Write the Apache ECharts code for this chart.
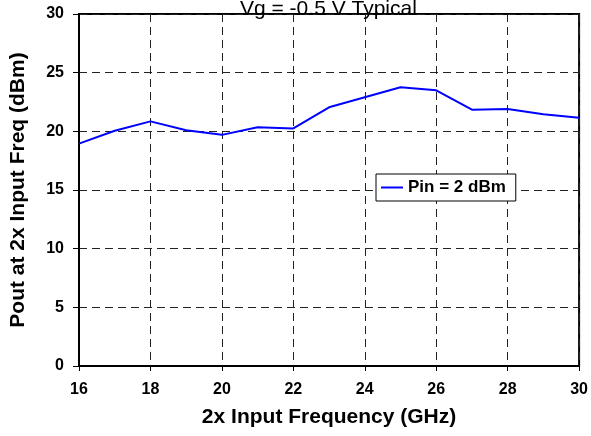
<!DOCTYPE html>
<html>
<head>
<meta charset="utf-8">
<script src="https://cdn.jsdelivr.net/npm/echarts@6/dist/echarts.min.js"></script>
<style>
  html, body { margin: 0; padding: 0; background: #fff; }
  #chart { width: 591px; height: 436px; }
</style>
</head>
<body>
<div id="chart"></div>
<script>
// Data
const freqs = [16, 17, 18, 19, 20, 21, 22, 23, 24, 25, 26, 27, 28, 29, 30];
const pout = [18.95, 20.05, 20.85, 20.1, 19.7, 20.35, 20.25, 22.05, 22.9, 23.75, 23.5, 21.85, 21.9, 21.45, 21.15];
const seriesName = 'Pin = 2 dBm';

const font = 'Liberation Sans, Arial, sans-serif';

const chart = echarts.init(document.getElementById('chart'));

const option = {
  animation: false,
  title: {
    text: 'Vg = -0.5 V Typical',
    left: 235,
    top: -6,
    textStyle: {
      fontFamily: font,
      fontSize: 21,
      fontWeight: 'normal',
      color: '#000',
    },
  },
  legend: {
    data: [{ name: seriesName, icon: 'rect' }],
    left: 376,
    top: 174,
    backgroundColor: '#fff',
    borderColor: '#000',
    borderWidth: 1,
    borderRadius: 0,
    padding: [5, 10, 5, 5],
    itemWidth: 22,
    itemHeight: 2,
    textStyle: {
      fontFamily: font,
      fontSize: 17,
      fontWeight: 'bold',
      color: '#000',
    },
  },
  grid: {
    left: 77,
    right: 10,
    top: 14,
    bottom: 70,
    show: true,
    borderColor: '#000',
    borderWidth: 2,
  },
  xAxis: {
    type: 'value',
    min: 16,
    max: 30,
    interval: 2,
    name: '2x Input Frequency (GHz)',
    nameLocation: 'middle',
    nameGap: 41,
    nameTextStyle: {
      fontFamily: font,
      fontSize: 21,
      fontWeight: 'bold',
      color: '#000',
    },
    axisLine: { lineStyle: { color: '#000', width: 2 } },
    axisTick: { show: true, length: 5, lineStyle: { color: '#000' } },
    axisLabel: {
      margin: 16,
      fontFamily: font,
      fontSize: 16,
      fontWeight: 'bold',
      color: '#000',
    },
    splitLine: {
      show: true,
      lineStyle: { color: '#222', type: [8, 5], width: 1 },
    },
  },
  yAxis: {
    type: 'value',
    min: 0,
    max: 30,
    interval: 5,
    name: 'Pout at 2x Input Freq (dBm)',
    nameLocation: 'middle',
    nameGap: 50,
    nameTextStyle: {
      fontFamily: font,
      fontSize: 21,
      fontWeight: 'bold',
      color: '#000',
    },
    axisLine: { show: true, lineStyle: { color: '#000', width: 2 } },
    axisTick: { show: true, length: 6, lineStyle: { color: '#000' } },
    axisLabel: {
      margin: 15,
      fontFamily: font,
      fontSize: 16,
      fontWeight: 'bold',
      color: '#000',
    },
    splitLine: {
      show: true,
      lineStyle: { color: '#222', type: [8, 5], width: 1 },
    },
  },
  series: [
    {
      name: seriesName,
      type: 'line',
      data: freqs.map((f, i) => [f, pout[i]]),
      symbol: 'none',
      lineStyle: { color: '#0000ff', width: 2 },
      itemStyle: { color: '#0000ff' },
    },
  ],
};

chart.setOption(option);
</script>
</body>
</html>
